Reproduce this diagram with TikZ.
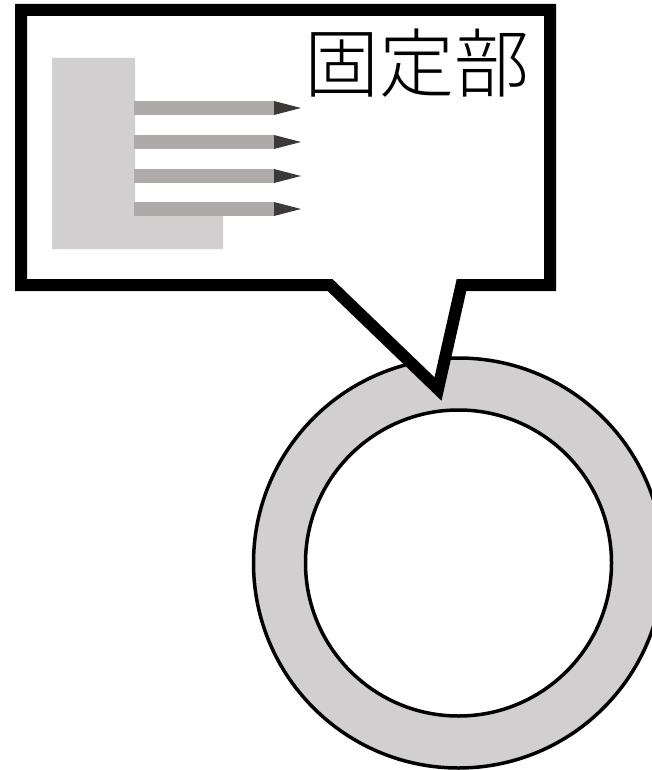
\documentclass[tikz,border=0pt]{standalone}
\usepackage{fontspec}
\newfontfamily\cjk{Noto Sans CJK JP Light}
\definecolor{ringgray}{HTML}{D1CFD0}
\definecolor{bargray}{HTML}{AEAAA9}
\definecolor{tipgray}{HTML}{3C3A39}
\tikzset{
  ring/.style={draw=black,line width=3.5pt},
  callout/.style={draw=black,fill=white,line width=12pt,miter limit=10},
  pinbar/.style={fill=bargray},
  pintip/.style={fill=tipgray},
}
\newcommand{\pinrow}[1]{%
  \fill[pinbar] (134,#1) rectangle (274,#1+14);
  \fill[pintip] (274,#1) -- (301,#1+7) -- (274,#1+14) -- cycle;
}
\begin{document}
\begin{tikzpicture}[x=1pt,y=-1pt]
\useasboundingbox (0,0) rectangle (652,770);
% ring
\fill[ringgray,even odd rule] (458.5,563) circle[radius=205] (458.5,563) circle[radius=153];
\draw[ring] (458.5,563) circle[radius=205];
\draw[ring,fill=white] (458.5,563) circle[radius=153];
% callout
\draw[callout] (21,10) -- (550,10) -- (550,285) -- (461.5,285) -- (438,389) -- (330,285) -- (21,285) -- cycle;
% fixed part
\fill[ringgray] (52,58) -- (135,58) -- (135,215) -- (223,215) -- (223,249) -- (52,249) -- cycle;
\pinrow{101}
\pinrow{135}
\pinrow{169}
\pinrow{202}
\node[inner sep=0pt,anchor=center] (label) at (417,63) {\fontsize{75}{75}\selectfont\cjk 固定部};
\end{tikzpicture}
\end{document}
